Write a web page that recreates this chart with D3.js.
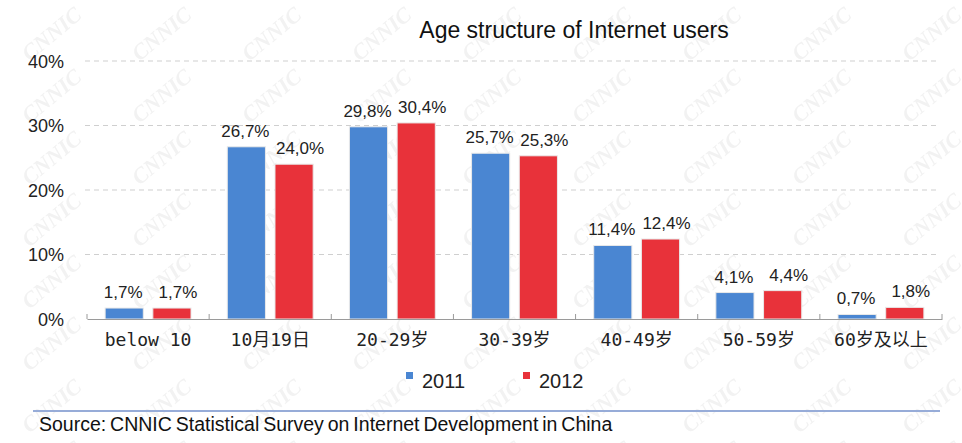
<!DOCTYPE html>
<html>
<head>
<meta charset="utf-8">
<script src="https://cdn.jsdelivr.net/npm/d3@7"></script>
<style>
  body { margin: 0; background: #fff; }
  svg { display: block; }
</style>
</head>
<body>
<div id="chart"></div>
<script>
'use strict';

// data
var categories = ['below 10', '10月19日', '20-29岁', '30-39岁', '40-49岁', '50-59岁', '60岁及以上'];
var series = ['2011', '2012'];
var values2011 = [1.7, 26.7, 29.8, 25.7, 11.4, 4.1, 0.7];
var values2012 = [1.7, 24.0, 30.4, 25.3, 12.4, 4.4, 1.8];
var yTicks = [0, 10, 20, 30, 40];

var colors = { '2011': '#4a86d2', '2012': '#e8323a' };

function render() {
  var width = 962;
  var height = 443;

  d3.select('#chart').selectAll('svg').remove();

  var svg = d3.select('#chart').append('svg')
    .attr('width', width)
    .attr('height', height);

  // faint CNNIC watermark in the background
  var defs = svg.append('defs');
  var pat = defs.append('pattern')
    .attr('id', 'wm')
    .attr('patternUnits', 'userSpaceOnUse')
    .attr('width', 110)
    .attr('height', 62);
  pat.append('text')
    .attr('x', 18).attr('y', 50)
    .attr('transform', 'rotate(-40 40 40)')
    .attr('font-family', 'Liberation Serif, serif')
    .attr('font-style', 'italic')
    .attr('font-weight', 'bold')
    .attr('font-size', 22)
    .attr('fill', '#f2f2f2')
    .text('CNNIC');
  svg.append('rect')
    .attr('width', width).attr('height', height)
    .attr('fill', 'url(#wm)');

  var x0 = 87, x1 = 942;
  var yBase = 319, yTop = 61;

  var x = d3.scaleBand()
    .domain(categories)
    .range([x0, x1])
    .padding(0);

  var xs = d3.scaleBand()
    .domain(series)
    .range([0, x.bandwidth()])
    .paddingInner(0.2)
    .paddingOuter(0.38);

  var y = d3.scaleLinear()
    .domain([0, 40])
    .range([yBase, yTop]);

  // title
  svg.append('text')
    .attr('x', 574)
    .attr('y', 38)
    .attr('text-anchor', 'middle')
    .attr('font-family', 'Liberation Sans, Arial, sans-serif')
    .attr('font-size', 23)
    .attr('fill', '#111')
    .text('Age structure of Internet users');

  // dashed gridlines
  svg.append('g')
    .selectAll('line')
    .data(yTicks.filter(function(t) { return t > 0; }))
    .enter()
    .append('line')
    .attr('x1', x0 - 2)
    .attr('x2', x1 - 4)
    .attr('y1', function(d) { return y(d); })
    .attr('y2', function(d) { return y(d); })
    .attr('stroke', '#cfcfcf')
    .attr('stroke-width', 1)
    .attr('stroke-dasharray', '5,4');

  // y axis labels
  var yAxis = d3.axisLeft(y)
    .tickValues(yTicks)
    .tickSize(0)
    .tickPadding(0)
    .tickFormat(function(d) { return d + '%'; });
  var yg = svg.append('g')
    .attr('transform', 'translate(64,0)')
    .call(yAxis);
  yg.select('.domain').remove();
  yg.selectAll('text')
    .attr('font-family', 'Liberation Sans, Arial, sans-serif')
    .attr('font-size', 18)
    .attr('fill', '#222')
    .attr('dy', '0.35em');

  // bars
  var rows = categories.map(function(c, i) {
    return { cat: c, vals: [
      { s: '2011', v: values2011[i] },
      { s: '2012', v: values2012[i] }
    ] };
  });

  var groups = svg.append('g')
    .selectAll('g')
    .data(rows)
    .enter()
    .append('g')
    .attr('transform', function(d) { return 'translate(' + x(d.cat) + ',0)'; });

  groups.selectAll('rect')
    .data(function(d) { return d.vals; })
    .enter()
    .append('rect')
    .attr('x', function(d) { return xs(d.s); })
    .attr('width', xs.bandwidth())
    .attr('y', function(d) { return y(d.v); })
    .attr('height', function(d) { return yBase - y(d.v); })
    .attr('fill', function(d) { return colors[d.s]; })
    .attr('stroke', '#e9e9e9')
    .attr('stroke-width', 1);

  groups.selectAll('text')
    .data(function(d) { return d.vals; })
    .enter()
    .append('text')
    .attr('x', function(d) { return xs(d.s) + xs.bandwidth() / 2 + (d.s === '2012' ? 6 : -1); })
    .attr('y', function(d) { return y(d.v) - 10; })
    .attr('text-anchor', 'middle')
    .attr('font-family', 'Liberation Sans, Arial, sans-serif')
    .attr('font-size', 17)
    .attr('fill', '#222')
    .text(function(d) { return String(d.v.toFixed(1)).replace('.', ',') + '%'; });

  // x axis
  var xAxis = d3.axisBottom(x)
    .tickSize(0)
    .tickPadding(14);
  var xg = svg.append('g')
    .attr('transform', 'translate(0,' + yBase + ')')
    .call(xAxis);
  xg.select('.domain')
    .attr('stroke', '#9a9a9a')
    .attr('stroke-width', 1.2);
  xg.selectAll('text')
    .attr('font-family', 'DejaVu Sans Mono, Noto Sans CJK SC, monospace')
    .attr('font-size', 18)
    .attr('fill', '#222')
    .attr('dy', '0.71em');

  // tick marks on category boundaries
  var bounds = categories.map(function(c) { return x(c); }).concat([x1]);
  svg.append('g')
    .selectAll('line')
    .data(bounds)
    .enter()
    .append('line')
    .attr('x1', function(d) { return d; })
    .attr('x2', function(d) { return d; })
    .attr('y1', yBase - 5)
    .attr('y2', yBase)
    .attr('stroke', '#9a9a9a')
    .attr('stroke-width', 1);

  // legend
  var legend = svg.append('g')
    .selectAll('g')
    .data(series)
    .enter()
    .append('g')
    .attr('transform', function(d, i) { return 'translate(' + (406 + i * 117) + ',381)'; });
  legend.append('rect')
    .attr('x', 0).attr('y', -9)
    .attr('width', 7).attr('height', 7)
    .attr('fill', function(d) { return colors[d]; });
  legend.append('text')
    .attr('x', 16)
    .attr('y', 0)
    .attr('dy', '0.35em')
    .attr('font-family', 'Liberation Sans, Arial, sans-serif')
    .attr('font-size', 20)
    .attr('fill', '#222')
    .text(function(d) { return d; });

  // source line + note
  svg.append('line')
    .attr('x1', 33).attr('x2', 940)
    .attr('y1', 411).attr('y2', 411)
    .attr('stroke', '#97acd8')
    .attr('stroke-width', 2);
  svg.append('text')
    .attr('x', 39)
    .attr('y', 431)
    .attr('font-family', 'Liberation Sans, Arial, sans-serif')
    .attr('font-size', 19.5)
    .attr('word-spacing', -1.5)
    .attr('fill', '#111')
    .text('Source: CNNIC Statistical Survey on Internet Development in China');
}

render();
</script>
</body>
</html>
